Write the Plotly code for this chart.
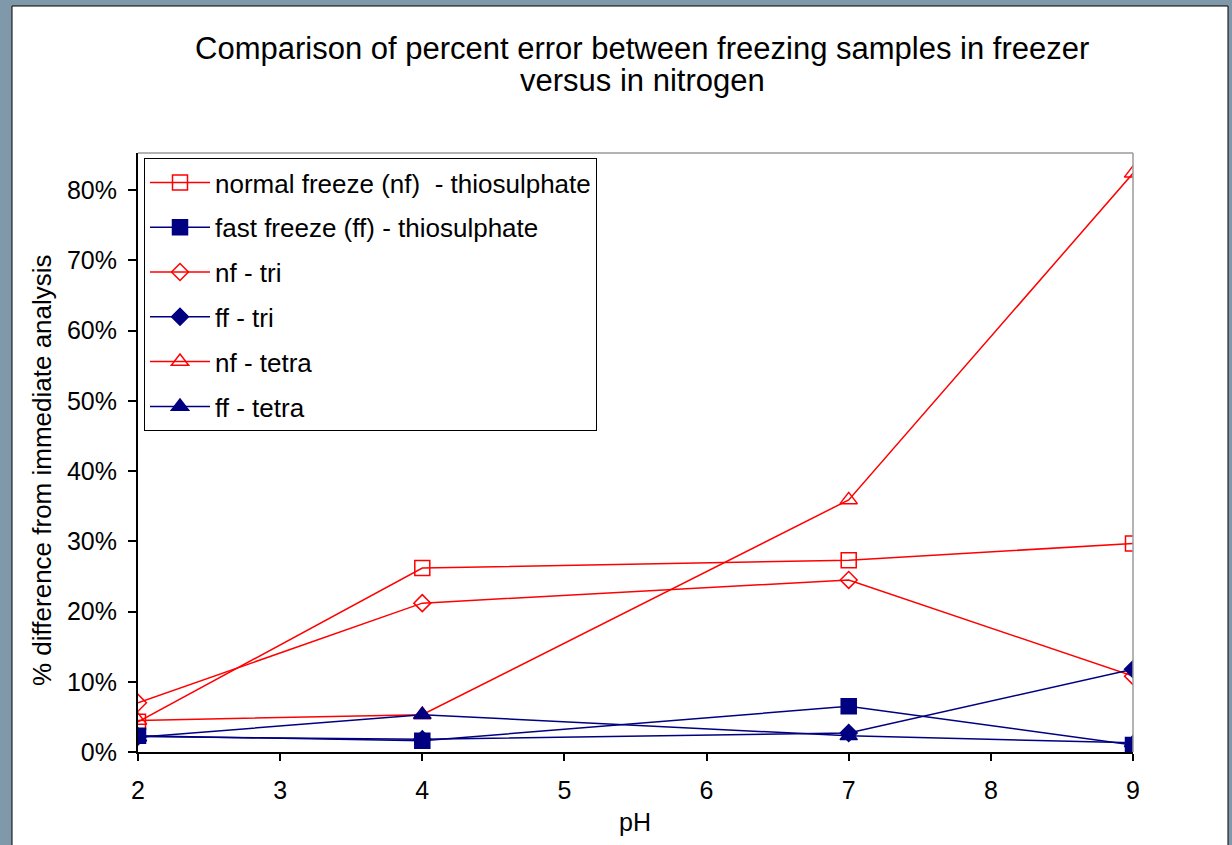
import plotly.graph_objects as go

ph = [2, 4, 7, 9]
nf_thio = [0.043, 0.262, 0.273, 0.297]
ff_thio = [0.023, 0.016, 0.065, 0.010]
nf_tri = [0.070, 0.212, 0.245, 0.108]
ff_tri = [0.022, 0.018, 0.027, 0.118]
nf_tetra = [0.045, 0.053, 0.359, 0.824]
ff_tetra = [0.021, 0.053, 0.023, 0.013]

names = ["normal freeze (nf)  - thiosulphate", "fast freeze (ff) - thiosulphate",
         "nf - tri", "ff - tri", "nf - tetra", "ff - tetra"]
series = [nf_thio, ff_thio, nf_tri, ff_tri, nf_tetra, ff_tetra]
title_lines = ["Comparison of percent error between freezing samples in freezer",
               "versus in nitrogen"]
RED = "#ff0000"
NAVY = "#000080"
styles = [
    (RED, "square-open", 15),
    (NAVY, "square", 15),
    (RED, "diamond-open", 13),
    (NAVY, "diamond", 13),
    (RED, "triangle-up-open", 15),
    (NAVY, "triangle-up", 15),
]

FONT = "Liberation Sans, Arial, sans-serif"
FS = 25

fig = go.Figure()
for i, (nm, ys, (col, sym, sz)) in enumerate(zip(names, series, styles)):
    fig.add_trace(go.Scatter(
        x=ph, y=ys, name=nm, mode="lines+markers",
        line=dict(color=col, width=1.5),
        marker=dict(symbol=sym, size=sz, color=col, line=dict(color=col, width=1.5)),
        legendgroup=f"g{i}",
    ))

# plot area pixel geometry
L, R, T, B = 138, 1133, 153, 752
W, H = R - L, B - T


def px(x):
    return (x - L) / W


def py(y):
    return (B - y) / H


shapes = [
    dict(type="rect", xref="paper", yref="paper", x0=px(12), x1=px(1228), y0=py(860), y1=py(6),
         line=dict(color="black", width=1), fillcolor="white", layer="below"),
    dict(type="line", xref="paper", yref="paper", x0=0, x1=1, y0=1, y1=1,
         line=dict(color="#9a9a9a", width=1.5)),
    dict(type="line", xref="paper", yref="paper", x0=1, x1=1, y0=0, y1=1,
         line=dict(color="#9a9a9a", width=1.5)),
]

annotations = [
    dict(text=title_lines[0], xref="paper", yref="paper", x=px(642), y=py(48),
         showarrow=False, xanchor="center", yanchor="middle", font=dict(size=31, family=FONT)),
    dict(text=title_lines[1], xref="paper", yref="paper", x=px(642), y=py(80),
         showarrow=False, xanchor="center", yanchor="middle", font=dict(size=31, family=FONT)),
    dict(text="% difference from immediate analysis", xref="paper", yref="paper",
         x=px(42), y=py(470), textangle=-90, showarrow=False,
         xanchor="center", yanchor="middle", font=dict(size=26, family=FONT)),
    dict(text="pH", xref="paper", yref="paper", x=px(635), y=py(822), showarrow=False,
         xanchor="center", yanchor="middle", font=dict(size=FS, family=FONT)),
]

fig.update_layout(
    width=1232, height=845,
    margin=dict(l=L, r=1232 - R, t=T, b=845 - B),
    paper_bgcolor="#7f98aa",
    plot_bgcolor="white",
    font=dict(family=FONT, color="black", size=FS),
    shapes=shapes,
    showlegend=True,
    legend=dict(x=px(144), y=py(158), xanchor="left", yanchor="top",
                bgcolor="white", bordercolor="black", borderwidth=1, itemwidth=60,
                font=dict(size=26, family=FONT), traceorder="grouped", tracegroupgap=8),
    annotations=annotations,
)

fig.update_xaxes(range=[2, 9], tickmode="linear", tick0=2, dtick=1,
                 showgrid=False, zeroline=False, showline=True, linecolor="black", linewidth=2,
                 ticks="outside", ticklen=7, tickcolor="black", tickwidth=1.5,
                 ticklabelstandoff=8, tickfont=dict(size=FS, family=FONT))
fig.update_yaxes(range=[0, 0.853], tickmode="linear", tick0=0, dtick=0.1, tickformat=".0%",
                 showgrid=False, zeroline=False, showline=True, linecolor="black", linewidth=2,
                 ticks="outside", ticklen=8, tickcolor="black", tickwidth=1.5,
                 ticklabelstandoff=6, tickfont=dict(size=FS, family=FONT))

fig.write_html("out.html")
